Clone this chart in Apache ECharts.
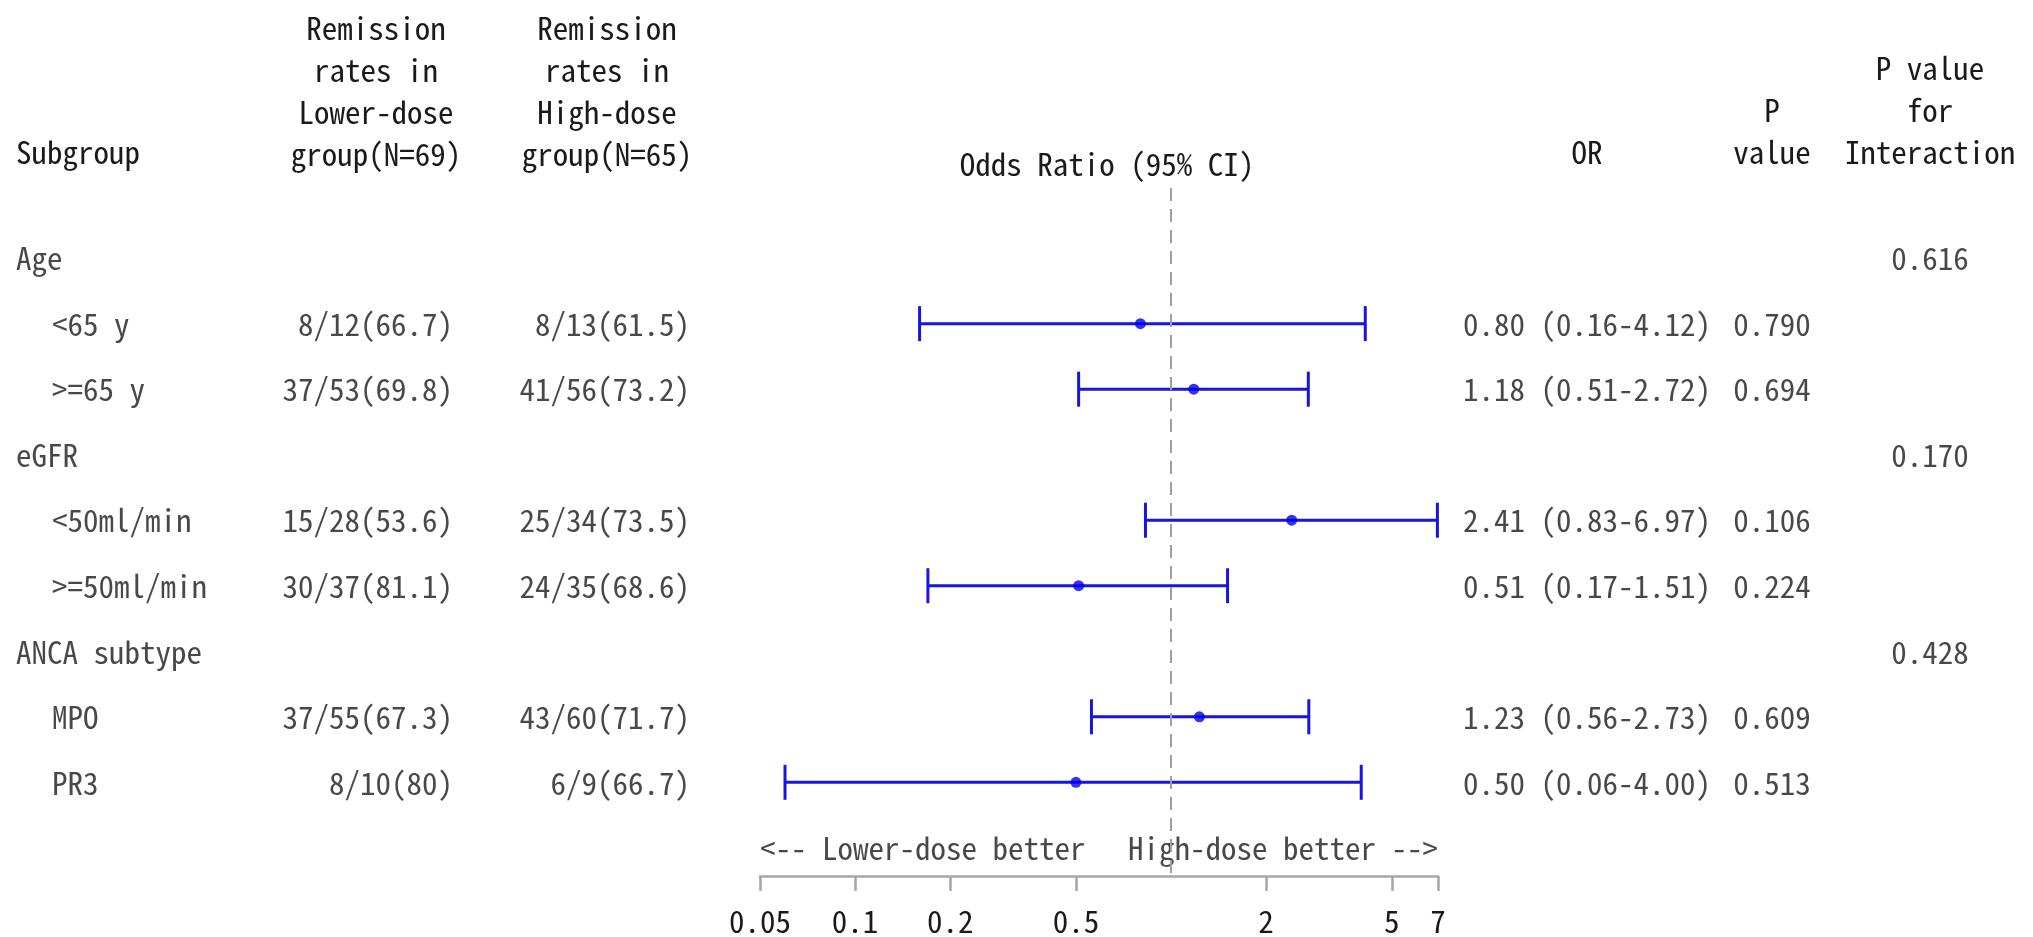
<!DOCTYPE html>
<html>
<head>
<meta charset="utf-8">
<title>Forest plot</title>
<script src="https://cdn.jsdelivr.net/npm/echarts@6/dist/echarts.min.js"></script>
<style>
  html, body { margin: 0; padding: 0; background: #fff; }
  #chart { width: 2033px; height: 937px; }
</style>
</head>
<body>
<div id="chart"></div>
<script>
// rows of the table, top to bottom
const rowLabels = ['Age', '<65 y', '>=65 y', 'eGFR', '<50ml/min', '>=50ml/min', 'ANCA subtype', 'MPO', 'PR3']
const isGroup = [true, false, false, true, false, false, true, false, false]
const lowDoseRates = ['', '8/12(66.7)', '37/53(69.8)', '', '15/28(53.6)', '30/37(81.1)', '', '37/55(67.3)', '8/10(80)']
const highDoseRates = ['', '8/13(61.5)', '41/56(73.2)', '', '25/34(73.5)', '24/35(68.6)', '', '43/60(71.7)', '6/9(66.7)']
const oddsRatio = [null, 0.80, 1.18, null, 2.41, 0.51, null, 1.23, 0.50]
const ciLower = [null, 0.16, 0.51, null, 0.83, 0.17, null, 0.56, 0.06]
const ciUpper = [null, 4.12, 2.72, null, 6.97, 1.51, null, 2.73, 4.00]
const pValues = ['', '0.790', '0.694', '', '0.106', '0.224', '', '0.609', '0.513']
const pInteraction = ['0.616', '', '', '0.170', '', '', '0.428', '', '']
const tickValues = [0.05, 0.1, 0.2, 0.5, 2, 5, 7]
const axisMin = 0.05
const axisMax = 7

const FONT = "'Noto Sans Mono CJK JP', 'Noto Sans CJK JP', 'DejaVu Sans Mono', monospace"
const FS = 31
const TXT = '#1a1a1a'
const BLUE = '#1616e0'

const chart = echarts.init(document.getElementById('chart'), null, { renderer: 'canvas' })

const lg = v => Math.log10(v)
const orText = oddsRatio.map((v, i) => v == null ? '' :
  v.toFixed(2) + ' (' + ciLower[i].toFixed(2) + '-' + ciUpper[i].toFixed(2) + ')')

// one text column of the table, placed on the hidden layout axis of grid 1
function textColumn (x, align, texts) {
  return {
    type: 'scatter',
    xAxisIndex: 1,
    yAxisIndex: 1,
    symbolSize: 0,
    silent: true,
    data: texts.map((t, i) => t ? { name: t, value: [x, i] } : null).filter(d => d),
    label: {
      show: true,
      position: 'inside',
      align: align,
      verticalAlign: 'middle',
      formatter: '{b}',
      color: TXT,
      fontSize: FS,
      fontFamily: FONT
    }
  }
}

function header (x, y, text, align) {
  return {
    type: 'text',
    x: x,
    y: y,
    silent: true,
    style: {
      text: text,
      align: align || 'center',
      verticalAlign: 'top',
      lineHeight: 42,
      fill: TXT,
      fontSize: FS,
      fontFamily: FONT
    }
  }
}

const yAxisCommon = { type: 'value', inverse: true, min: -1.07, max: 9.43, show: false }

const option = {
  animation: false,
  backgroundColor: '#fff',
  grid: [
    { left: 760, width: 678, top: 188, height: 689 },
    { left: 0, width: 2033, top: 188, height: 689 }
  ],
  xAxis: [
    {
      gridIndex: 0,
      type: 'value',
      min: lg(axisMin),
      max: lg(axisMax),
      splitLine: { show: false },
      axisLine: { show: true, onZero: false, lineStyle: { color: '#a6a6a6', width: 2.5 } },
      axisTick: {
        show: true,
        length: 15,
        customValues: tickValues.map(lg),
        lineStyle: { color: '#a6a6a6', width: 2.5 }
      },
      axisLabel: {
        show: true,
        customValues: tickValues.map(lg),
        margin: 30,
        hideOverlap: false,
        showMinLabel: true,
        showMaxLabel: true,
        color: TXT,
        fontSize: FS,
        fontFamily: FONT,
        formatter: v => String(+Math.pow(10, v).toPrecision(2))
      }
    },
    { gridIndex: 1, type: 'value', min: 0, max: 2033, show: false }
  ],
  yAxis: [
    Object.assign({ gridIndex: 0 }, yAxisCommon),
    Object.assign({ gridIndex: 1 }, yAxisCommon)
  ],
  graphic: [
    header(16, 131, 'Subgroup', 'left'),
    header(376, 7, 'Remission\nrates in\nLower-dose\ngroup(N=69)'),
    header(607, 7, 'Remission\nrates in\nHigh-dose\ngroup(N=65)'),
    header(1107, 143, 'Odds Ratio (95% CI)'),
    header(1587, 131, 'OR'),
    header(1772, 89, 'P\nvalue'),
    header(1930, 47, 'P value\nfor\nInteraction')
  ],
  series: [
    // confidence intervals
    {
      type: 'custom',
      xAxisIndex: 0,
      yAxisIndex: 0,
      silent: true,
      data: oddsRatio.map((v, i) => v == null ? null : [lg(ciLower[i]), lg(ciUpper[i]), i]).filter(d => d),
      encode: { x: [0, 1], y: 2 },
      renderItem: function (params, api) {
        const p1 = api.coord([api.value(0), api.value(2)])
        const p2 = api.coord([api.value(1), api.value(2)])
        const h = 17.5
        const style = { stroke: BLUE, lineWidth: 3 }
        return {
          type: 'group',
          children: [
            { type: 'line', shape: { x1: p1[0], y1: p1[1], x2: p2[0], y2: p2[1] }, style: style },
            { type: 'line', shape: { x1: p1[0], y1: p1[1] - h, x2: p1[0], y2: p1[1] + h }, style: style },
            { type: 'line', shape: { x1: p2[0], y1: p2[1] - h, x2: p2[0], y2: p2[1] + h }, style: style }
          ]
        }
      }
    },
    // point estimates + reference line at OR = 1
    {
      type: 'scatter',
      xAxisIndex: 0,
      yAxisIndex: 0,
      silent: true,
      symbol: 'circle',
      symbolSize: 11,
      itemStyle: { color: '#0000ee' },
      data: oddsRatio.map((v, i) => v == null ? null : [lg(v), i]).filter(d => d),
      markLine: {
        silent: true,
        symbol: 'none',
        label: { show: false },
        lineStyle: { color: '#a0a0a0', width: 2, type: [13, 8] },
        data: [{ xAxis: lg(1) }]
      },
      z: 3
    },
    // direction captions under the rows
    {
      type: 'scatter',
      xAxisIndex: 0,
      yAxisIndex: 0,
      symbolSize: 0,
      silent: true,
      data: [
        { name: '<-- Lower-dose better', value: [lg(axisMin), 9], label: { align: 'left' } },
        { name: 'High-dose better -->', value: [lg(axisMax), 9], label: { align: 'right' } }
      ],
      label: {
        show: true,
        position: 'inside',
        verticalAlign: 'middle',
        formatter: '{b}',
        color: TXT,
        fontSize: FS,
        fontFamily: FONT
      }
    },
    textColumn(16, 'left', rowLabels.map((t, i) => isGroup[i] ? t : '')),
    textColumn(52, 'left', rowLabels.map((t, i) => isGroup[i] ? '' : t)),
    textColumn(453, 'right', lowDoseRates),
    textColumn(690, 'right', highDoseRates),
    textColumn(1587, 'center', orText),
    textColumn(1772, 'center', pValues),
    textColumn(1930, 'center', pInteraction)
  ]
}

chart.setOption(option)
</script>
</body>
</html>
